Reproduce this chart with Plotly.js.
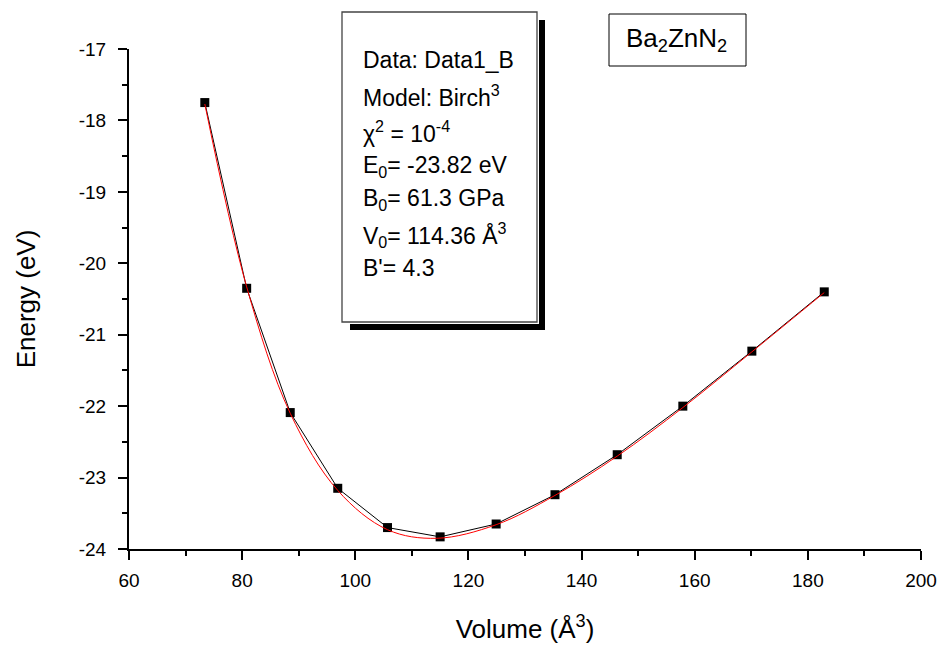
<!DOCTYPE html>
<html>
<head>
<meta charset="utf-8">
<script src="https://cdn.plot.ly/plotly-3.0.1.min.js"></script>
<style>body{margin:0;background:#fff}#chart{width:945px;height:648px}</style>
</head>
<body>
<div id="chart"></div>
<script>
// Data
const volume = [73.4, 80.8, 88.5, 96.9, 105.7, 115.0, 124.9, 135.3, 146.3, 157.9, 170.1, 182.9];
const energy = [-17.75, -20.35, -22.09, -23.15, -23.70, -23.83, -23.65, -23.24, -22.68, -22.00, -21.23, -20.40];
// Birch fit curve (red)
const fitVolume = [73.4, 80.8, 88.5, 96.9, 105.7, 114.4, 124.9, 135.3, 146.3, 157.9, 170.1, 182.9];
const fitEnergy = [-17.77, -20.33, -22.10, -23.18, -23.73, -23.85, -23.66, -23.25, -22.70, -22.02, -21.24, -20.41];
const xTicks = [60, 80, 100, 120, 140, 160, 180, 200];
const yTicks = [-24, -23, -22, -21, -20, -19, -18, -17];
const infoLines = ["Data: Data1_B", "Model: Birch<sup>3</sup>", "χ<sup>2</sup> = 10<sup>-4</sup>",
  "E<sub>0</sub>= -23.82 eV", "B<sub>0</sub>= 61.3 GPa", "V<sub>0</sub>= 114.36 Å<sup>3</sup>", "B'= 4.3"];
const compound = "Ba<sub>2</sub>ZnN<sub>2</sub>";

// Plot geometry (pixels)
const L = 129, R = 921, T = 49, B = 549;
const W = R - L, H = B - T;
const px = x => (x - L) / W;
const py = y => (B - y) / H;

const FONT = "Liberation Sans, Arial, sans-serif";

const traces = [
  {x: volume, y: energy, mode: "lines+markers", type: "scatter",
   line: {color: "#000", width: 1},
   marker: {symbol: "square", size: 9, color: "#000"}, name: "Data1_B"},
  {x: fitVolume, y: fitEnergy, mode: "lines", type: "scatter",
   line: {color: "#ff0000", width: 1, shape: "spline", smoothing: 1}, name: "Birch fit"}
];

const lineY = [60, 96, 132, 166, 199, 235, 268];
const annotations = infoLines.map((t, i) => ({
  xref: "paper", yref: "paper", x: px(361), y: py(lineY[i]),
  xanchor: "left", yanchor: "middle", text: t, showarrow: false,
  font: {family: FONT, size: 23, color: "#000"}
}));
annotations.push({
  xref: "paper", yref: "paper", x: px(676), y: py(40),
  xanchor: "center", yanchor: "middle", text: compound, showarrow: false,
  font: {family: FONT, size: 26, color: "#000"}
});

const shapes = [
  // info box
  {type: "rect", xref: "paper", yref: "paper", x0: px(342), x1: px(537), y0: py(12), y1: py(322),
   line: {color: "#444", width: 1.3}, fillcolor: "rgba(0,0,0,0)"},
  // shadow right
  {type: "rect", xref: "paper", yref: "paper", x0: px(539), x1: px(545), y0: py(20), y1: py(330),
   line: {width: 0}, fillcolor: "#000"},
  // shadow bottom
  {type: "rect", xref: "paper", yref: "paper", x0: px(350), x1: px(545), y0: py(324), y1: py(330),
   line: {width: 0}, fillcolor: "#000"},
  // compound box
  {type: "rect", xref: "paper", yref: "paper", x0: px(609), x1: px(746), y0: py(14), y1: py(66),
   line: {color: "#000", width: 1}, fillcolor: "rgba(0,0,0,0)"}
];

const layout = {
  width: 945, height: 648,
  margin: {l: L, r: 945 - R, t: T, b: 648 - B},
  paper_bgcolor: "#fff", plot_bgcolor: "#fff",
  showlegend: false,
  font: {family: FONT, color: "#000"},
  xaxis: {
    range: [60, 200], tickvals: xTicks, ticktext: xTicks.map(String),
    showgrid: false, zeroline: false, showline: true, linecolor: "#000", linewidth: 2,
    ticks: "outside", ticklen: 9, tickwidth: 2, tickcolor: "#000",
    minor: {ticks: "outside", ticklen: 5, tickwidth: 2, tickcolor: "#000", dtick: 10, tick0: 60, showgrid: false},
    tickfont: {family: FONT, size: 19, color: "#000"}, ticklabelstandoff: 4,
    title: {text: "Volume (Å<sup>3</sup>)", font: {family: FONT, size: 26, color: "#000"}, standoff: 30}
  },
  yaxis: {
    range: [-24, -17], tickvals: yTicks, ticktext: yTicks.map(String),
    showgrid: false, zeroline: false, showline: true, linecolor: "#000", linewidth: 2,
    ticks: "outside", ticklen: 9, tickwidth: 2, tickcolor: "#000",
    minor: {ticks: "outside", ticklen: 5, tickwidth: 2, tickcolor: "#000", dtick: 0.5, tick0: -24, showgrid: false},
    tickfont: {family: FONT, size: 19, color: "#000"}, ticklabelstandoff: 8,
    title: {text: "Energy (eV)", font: {family: FONT, size: 26, color: "#000"}, standoff: 36}
  },
  annotations: annotations,
  shapes: shapes
};

Plotly.newPlot("chart", traces, layout, {displayModeBar: false, staticPlot: true});
</script>
</body>
</html>
